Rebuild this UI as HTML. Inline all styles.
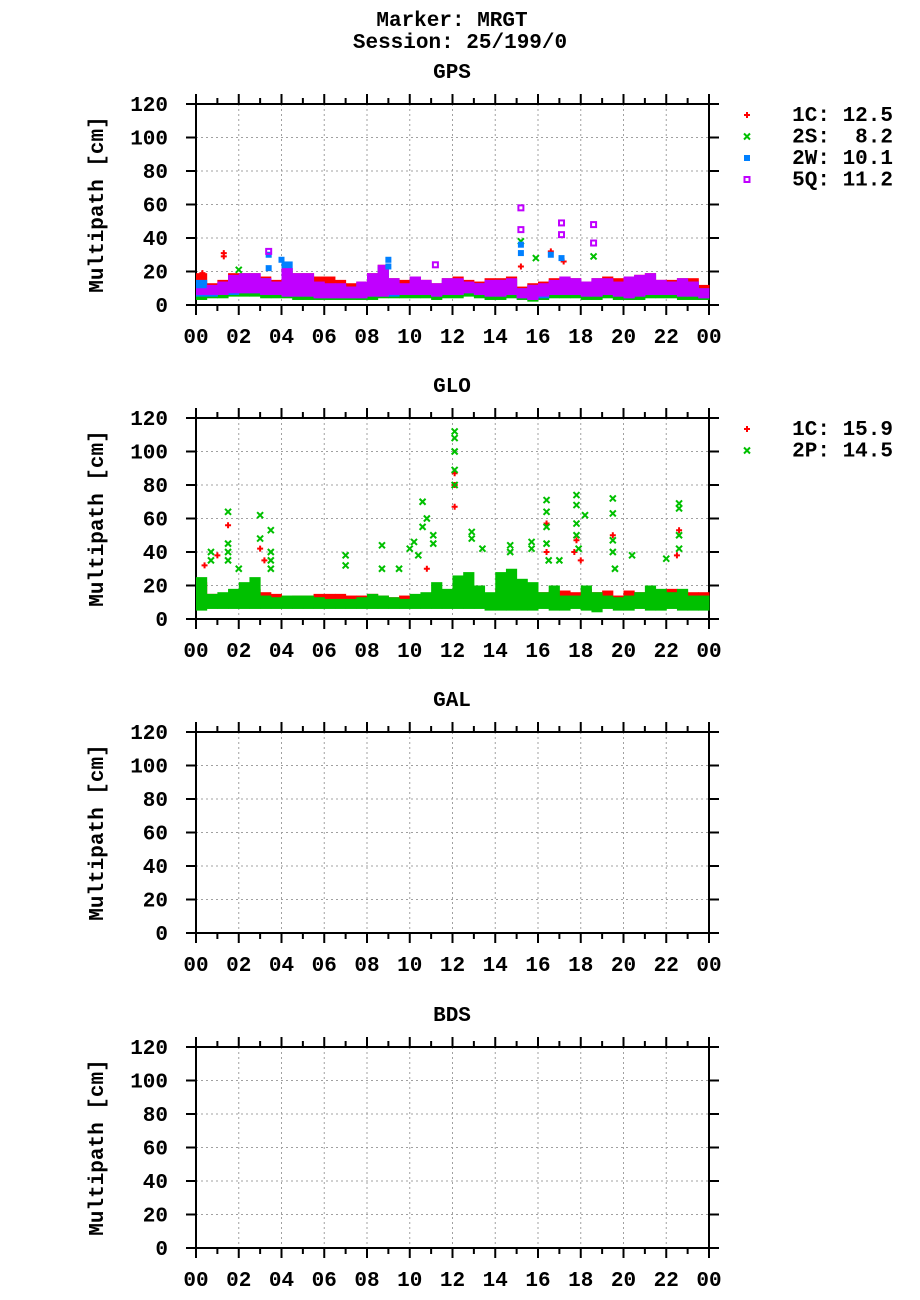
<!DOCTYPE html>
<html><head><meta charset="utf-8">
<style>
body{margin:0;background:#fff;}
svg{display:block;}
text{font-family:"Liberation Mono",monospace;font-weight:bold;font-size:21px;fill:#000;}
</style></head>
<body>
<svg id="chart" width="920" height="1300" xmlns="http://www.w3.org/2000/svg">
<text x="452" y="26" text-anchor="middle">Marker: MRGT</text>
<text x="460" y="48" text-anchor="middle">Session: 25/199/0</text>
</svg>
<script>
// ---- data ----
const hourTicks = ["00","02","04","06","08","10","12","14","16","18","20","22","00"];
const yTicks = [0,20,40,60,80,100,120];
const panels = ["GPS","GLO","GAL","BDS"];
// GPS half-hour bins (48 bins) lo/hi [cm]
const gps1cLo = [6,7,7,8,8,8,7,7,6,6,6,5,5,5,5,5,6,6,7,7,7,7,6,7,7,8,7,6,6,7,5,4,6,7,7,7,6,6,7,6,5,6,7,7,7,6,6,5];
const gps1cHi = [19,13,15,19,19,19,17,15,22,19,19,17,17,15,13,14,19,24,16,15,17,15,13,16,17,15,14,16,16,17,11,13,14,16,17,16,14,16,17,16,17,18,19,15,15,16,16,12];
const gps2sLo = [3,4,4,5,5,5,4,4,4,3,3,3,3,3,3,3,3,4,4,4,4,4,3,4,4,5,4,3,3,4,3,2,3,4,4,4,3,3,4,3,3,3,4,4,4,3,3,3];
const gps2sHi = [8,9,9,10,10,10,9,9,9,8,8,8,8,7,7,7,8,9,9,9,9,9,8,9,9,10,9,8,8,9,8,6,8,9,9,9,8,8,9,8,8,8,9,9,9,8,8,8];
const gps2wLo = [5,5,6,6,7,7,6,6,5,5,5,4,4,4,4,4,5,5,5,6,6,6,5,6,6,7,6,5,5,6,4,3,4,6,6,6,5,5,6,5,4,5,6,6,6,5,5,4];
const gps2wHi = [15,11,13,17,18,18,16,13,26,18,18,13,12,12,11,13,18,23,15,12,16,14,12,15,15,13,13,14,15,15,10,12,12,14,16,15,13,15,15,13,16,17,18,14,14,15,14,10];
const gps5qLo = [6,6,6,7,7,7,6,6,5,5,5,4,4,4,4,4,5,5,6,6,6,6,5,6,6,7,6,5,5,6,4,3,5,6,6,6,5,5,6,5,4,5,6,6,6,5,5,4];
const gps5qHi = [10,12,14,18,19,19,16,14,22,19,19,14,13,13,11,14,19,24,16,13,17,15,13,16,16,14,13,15,15,16,10,12,13,15,17,16,14,16,16,14,17,18,19,15,14,16,14,10];
// GPS spikes [hour, cm]
const gps1cSpikeH = [1.3,1.3,15.2,16.6,17.2,0.3];
const gps1cSpikeV = [31,29,23,32,26,19];
const gps2sSpikeH = [15.2,15.9,18.6,2.0];
const gps2sSpikeV = [38,28,29,21];
const gps2wSpikeH = [3.4,3.4,4.0,9.0,9.0,15.2,15.2,16.6,17.1];
const gps2wSpikeV = [30,22,27,27,23,36,31,30,28];
const gps5qSpikeH = [3.4,15.2,15.2,17.1,17.1,18.6,18.6,11.2];
const gps5qSpikeV = [32,58,45,49,42,48,37,24];
// GLO bins
const glo1cLo = [8,8,8,8,8,9,9,8,9,9,9,8,8,8,8,8,9,9,9,9,9,9,9,9,9,9,9,9,9,9,8,8,8,8,8,8,8,8,8,8,8,8,8,8,8,8,8,8];
const glo1cHi = [22,15,14,14,16,18,16,15,13,14,14,15,15,15,14,14,15,14,13,14,14,15,16,14,16,16,14,15,18,17,18,16,16,17,17,16,18,16,17,14,17,16,16,15,18,17,16,16];
const glo2pLo = [5,6,6,6,6,6,6,6,6,6,6,6,6,6,6,6,6,6,6,6,6,6,6,6,6,6,6,5,5,5,5,5,6,5,5,6,5,4,6,5,5,6,5,5,6,5,5,5];
const glo2pHi = [25,15,16,18,22,25,14,13,14,14,14,13,12,12,12,13,15,14,13,12,15,16,22,18,26,28,20,16,28,30,24,22,16,20,14,14,20,16,14,13,14,16,20,18,16,18,14,14];
const glo1cSpikeH = [1.5,12.1,12.1,12.1,16.4,17.8,19.5,22.6,3.0,1.0,17.7,18.0,0.4,3.2,10.8,16.4,22.5];
const glo1cSpikeV = [56,87,80,67,57,47,50,53,42,38,40,35,32,35,30,40,38];
const glo2pSpikeH = [1.5,3.0,3.5,3.0,10.6,12.1,12.1,12.1,12.1,12.1,12.9,16.4,16.4,17.8,17.8,18.2,19.5,19.5,22.6,22.6,7.0,8.7,11.1,14.7,15.7,
  0.7,0.7,1.5,1.5,2.0,3.5,3.5,7.0,8.7,9.5,10.0,10.2,10.6,10.8,11.1,12.9,13.4,14.7,15.7,16.4,16.4,17.0,17.8,17.8,19.5,19.5,20.4,22.6,22.6,22.0,1.5,3.5,10.4,16.5,17.9,19.6];
const glo2pSpikeV = [64,62,53,48,70,112,108,100,89,80,52,71,64,74,68,62,72,63,69,66,38,44,50,44,46,
  40,35,45,35,30,40,30,32,30,30,42,46,55,60,45,48,42,40,42,55,45,35,57,50,47,40,38,50,42,36,40,35,38,35,42,30];
// legend
const gpsLegLabels = ["1C: 12.5","2S:  8.2","2W: 10.1","5Q: 11.2"];
const gloLegLabels = ["1C: 15.9","2P: 14.5"];

// ---- layout ----
const NS="http://www.w3.org/2000/svg";
const svg=document.getElementById('chart');
const X0=196,X1=709,PH=201;
const tops=[104,418,732,1047];
function xs(h){return X0+h/24*(X1-X0);}
function ys(top,v){return top+PH-v/120*PH;}
function mk(tag,attrs,parent){const e=document.createElementNS(NS,tag);for(const k in attrs)e.setAttribute(k,attrs[k]);(parent||svg).appendChild(e);return e;}
function txt(str,x,y,anchor,parent){const t=mk('text',{x:x,y:y,'text-anchor':anchor},parent);t.textContent=str;return t;}

const colors={c1:'#ff0000',c2:'#00c000',c3:'#0080ff',c4:'#c000ff'};

function marker(g,type,x,y,col){
  let e;
  if(type==='plus'){e=mk('path',{d:`M${x-3},${y}h6M${x},${y-3}v6`,stroke:col,'stroke-width':2},g);}
  else if(type==='cross'){e=mk('path',{d:`M${x-3},${y-3}l6,6M${x-3},${y+3}l6,-6`,stroke:col,'stroke-width':2},g);}
  else if(type==='fsq'){e=mk('rect',{x:x-3,y:y-3,width:6,height:6,fill:col},g);}
  else {e=mk('rect',{x:x-2.5,y:y-2.5,width:5,height:5,fill:'none',stroke:col,'stroke-width':2},g);}
  
  
  return e;
}
function band(top,lo,hi,col,name){
  const g=mk('g',{});
  
  
  const n=lo.length,w=24/n;
  for(let i=0;i<n;i++){
    const x=xs(i*w),x2=xs((i+1)*w);
    const r=mk('rect',{x:x,y:ys(top,hi[i]),width:x2-x+0.5,height:Math.max(1,ys(top,lo[i])-ys(top,hi[i])),fill:col},g);
    
    
  }
  return g;
}
function spikes(top,hs,vs,type,col,name){
  const g=mk('g',{});
  
  
  for(let i=0;i<hs.length;i++)marker(g,type,xs(hs[i]),ys(top,vs[i]),col);
}

panels.forEach((p,pi)=>{
  const top=tops[pi],bot=top+PH;
  const g=mk('g',{});
  
  
  const tt=txt(p,452,top-26,'middle',g);
  
  
  yTicks.forEach(v=>{
    if(v>0&&v<120){const l=mk('line',{x1:X0,x2:X1,y1:ys(top,v),y2:ys(top,v),stroke:'#a0a0a0','stroke-dasharray':'2,3','stroke-width':1},g);
    
    }
    const lb=txt(String(v),168,ys(top,v)+7,'end',g);
    
    
    mk('line',{x1:X0-10,x2:X0,y1:ys(top,v),y2:ys(top,v),stroke:'#000','stroke-width':2},g);
    mk('line',{x1:X1,x2:X1+10,y1:ys(top,v),y2:ys(top,v),stroke:'#000','stroke-width':2},g);
  });
  hourTicks.forEach((s,i)=>{
    const x=xs(i*2);
    if(i>0&&i<12){const l=mk('line',{x1:x,x2:x,y1:top,y2:bot,stroke:'#a0a0a0','stroke-dasharray':'2,3','stroke-width':1},g);
    
    }
    const lb=txt(s,x,bot+38,'middle',g);
    
    
  });
  for(let h=0;h<=24;h++){
    const x=xs(h),L=(h%2===0)?10:6;
    mk('line',{x1:x,x2:x,y1:top-L,y2:top,stroke:'#000','stroke-width':2},g);
    mk('line',{x1:x,x2:x,y1:bot,y2:bot+L,stroke:'#000','stroke-width':2},g);
  }
  const yt=txt('Multipath [cm]',0,0,'middle',g);
  yt.setAttribute('transform',`translate(103,${top+PH/2}) rotate(-90)`);
  
  
  if(p==='GPS'){
    band(top,gps1cLo,gps1cHi,colors.c1,'series-1c');
    band(top,gps2sLo,gps2sHi,colors.c2,'series-2s');
    band(top,gps2wLo,gps2wHi,colors.c3,'series-2w');
    band(top,gps5qLo,gps5qHi,colors.c4,'series-5q');
    spikes(top,gps1cSpikeH,gps1cSpikeV,'plus',colors.c1,'spikes-1c');
    spikes(top,gps2sSpikeH,gps2sSpikeV,'cross',colors.c2,'spikes-2s');
    spikes(top,gps2wSpikeH,gps2wSpikeV,'fsq',colors.c3,'spikes-2w');
    spikes(top,gps5qSpikeH,gps5qSpikeV,'osq',colors.c4,'spikes-5q');
    const types=['plus','cross','fsq','osq'],cols=[colors.c1,colors.c2,colors.c3,colors.c4];
    gpsLegLabels.forEach((s,i)=>{
      const y=top+11+i*21.5;
      marker(svg,types[i],747,y,cols[i]);
      const t=txt(s,893,y+6,'end');
      
      
      t.style.whiteSpace='pre';
    });
  }
  if(p==='GLO'){
    band(top,glo1cLo,glo1cHi,colors.c1,'series-1c');
    spikes(top,glo1cSpikeH,glo1cSpikeV,'plus',colors.c1,'spikes-1c');
    band(top,glo2pLo,glo2pHi,colors.c2,'series-2p');
    spikes(top,glo2pSpikeH,glo2pSpikeV,'cross',colors.c2,'spikes-2p');
    const types=['plus','cross'],cols=[colors.c1,colors.c2];
    gloLegLabels.forEach((s,i)=>{
      const y=top+11+i*21.5;
      marker(svg,types[i],747,y,cols[i]);
      const t=txt(s,893,y+6,'end');
      
      
      t.style.whiteSpace='pre';
    });
  }
  const fr=mk('rect',{x:X0,y:top,width:X1-X0,height:PH,fill:'none',stroke:'#000','stroke-width':2},g);
  
  
});
</script>
</body></html>
